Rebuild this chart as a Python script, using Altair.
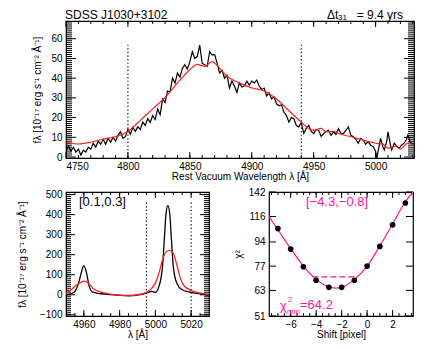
import altair as alt
import pandas as pd

# ---------------- data ----------------
# Top panel: observed (black) spectrum
top_lam = [4750, 4752, 4754, 4756, 4758, 4760, 4762, 4764, 4766, 4768, 4770, 4772, 4774, 4776, 4778,
           4780, 4782, 4784, 4786, 4788, 4790, 4792, 4794, 4796, 4798, 4800, 4802, 4804, 4806, 4808,
           4810, 4812, 4814, 4816, 4818, 4820, 4822, 4824, 4826, 4828, 4830, 4832, 4834, 4836, 4838,
           4840, 4842, 4844, 4846, 4848, 4850, 4852, 4854, 4856, 4858, 4860, 4862, 4864, 4866, 4868,
           4870, 4872, 4874, 4876, 4878, 4880, 4882, 4884, 4886, 4888, 4890, 4892, 4894, 4896, 4898,
           4900, 4902, 4904, 4906, 4908, 4910, 4912, 4914, 4916, 4918, 4920, 4922, 4924, 4926, 4928,
           4930, 4932, 4934, 4936, 4938, 4940, 4942, 4944, 4946, 4948, 4950, 4952, 4954, 4956, 4958,
           4960, 4962, 4964, 4966, 4968, 4970, 4972, 4974, 4976, 4978, 4980, 4982, 4984, 4986, 4988,
           4990, 4992, 4994, 4996, 4998, 5000, 5001, 5003, 5004, 5006, 5007, 5009, 5010, 5012, 5013,
           5015, 5017, 5019, 5021, 5023, 5025, 5026, 5028, 5029, 5031]
top_black = [3.6, 5.5, 3.0, 5.0, 2.5, 4.0, 1.0, 3.5, 2.5, 5.0, 4.0, 7.0, 5.0, 8.0, 6.5,
             9.0, 6.5, 9.5, 7.5, 10.0, 8.0, 11.0, 12.8, 9.5, 10.3, 14.0, 11.5, 15.0, 13.0, 15.3,
             14.0, 17.7, 16.0, 19.5, 17.5, 21.0, 19.0, 24.4, 21.5, 29.4, 27.7, 33.5, 33.0, 40.0, 37.5,
             42.6, 40.5, 45.0, 46.8, 44.5, 48.4, 53.4, 50.0, 51.0, 56.7, 47.5, 46.8, 46.0, 53.4, 51.7,
             52.0, 47.6, 42.6, 44.0, 40.0, 41.5, 35.0, 38.5, 36.0, 32.7, 37.6, 35.5, 36.0, 38.5, 36.5,
             38.5, 37.6, 39.0, 36.0, 34.3, 35.0, 31.0, 32.5, 29.4, 30.5, 27.0, 26.0, 26.5, 22.7, 21.0,
             17.7, 20.0, 19.4, 16.0, 15.3, 17.5, 11.9, 14.5, 16.0, 13.0, 11.9, 14.0, 13.6, 10.5, 11.9,
             13.0, 13.6, 11.0, 12.8, 11.5, 14.4, 12.0, 11.9, 13.5, 15.3, 11.0, 10.3, 9.0, 7.0, 9.5,
             8.6, 6.5, 7.8, 6.0, 5.3, 3.0, -0.5, 6.0, 9.5, 5.0, 3.6, 8.0, 12.8, 6.0, 3.6,
             7.0, 5.5, 4.5, 6.0, 7.0, 9.0, 11.0, 7.5, 7.0, 6.0]
# Top panel: model (red) spectrum
top_red_lam = [4750, 4760, 4770, 4780, 4790, 4800, 4810, 4820, 4830, 4840, 4850, 4856, 4862, 4868,
               4875, 4880, 4890, 4900, 4910, 4920, 4930, 4940, 4946, 4950, 4956, 4960, 4966, 4970,
               4980, 4990, 5000, 5006, 5010, 5016, 5020, 5026, 5031]
top_red = [7.5, 6.6, 7.5, 9.0, 10.3, 13.0, 18.6, 24.4, 30.2, 37.6, 44.3, 47.0, 46.0, 48.4,
           44.3, 41.0, 37.6, 35.0, 33.5, 29.4, 23.5, 17.7, 14.5, 13.6, 14.5, 12.8, 13.0, 11.9,
           10.3, 8.6, 7.0, 6.5, 4.5, 5.5, 4.0, 7.0, 6.0]
top_vlines = [4800, 4940]

# Bottom-left panel: [OIII] region
bl_lam = [4950, 4953, 4955, 4957, 4958.5, 4960, 4961.5, 4963, 4965, 4970, 4975, 4980, 4985, 4990,
          4995, 4998, 5000, 5002, 5004, 5005, 5006, 5007, 5008, 5009, 5010, 5012, 5015, 5020, 5025, 5030]
bl_black = [0, 6, 17, 58, 108, 145, 108, 42, 13, 5, 1, -3, -5, -2,
            8, 17, 12, 42, 142, 275, 408, 445, 408, 275, 142, 58, 25, 12, 5, -2]
bl_red_lam = [4950, 4953, 4955, 4958, 4960, 4962, 4965, 4970, 4975, 4980, 4985, 4990, 4995, 4998,
              5000, 5002, 5004, 5006, 5008, 5010, 5012, 5014, 5016, 5020, 5025, 5030]
bl_red = [8, 25, 42, 60, 68, 62, 33, 12, 3, -2, -3, 0, 12, 33,
          58, 108, 175, 215, 222, 208, 150, 83, 45, 22, 8, 2]
bl_vlines = [4995, 5020]

# Bottom-right panel: chi^2 vs shift
shift_pts = [-7, -6, -5, -4, -3, -2, -1, 0, 1, 2, 3]
chi2_pts = [105, 88.6, 76.6, 68.5, 64.6, 64.6, 68.5, 77, 90.6, 108.3, 129.7]
curve_x = [-7.7, -7, -6, -5, -4, -3, -2.5, -2, -1, 0, 1, 2, 3, 3.6]
curve_y = [116, 104, 89, 77, 69, 64.8, 64.2, 64.6, 69, 77, 91, 109, 131, 142]
dash_x = [-4.3, -0.8]
dash_y = [70.5, 70.5]

# axis tick values
top_xmaj = [4750, 4800, 4850, 4900, 4950, 5000]
top_ymaj = [0, 10, 20, 30, 40, 50, 60]
top_xmin = list(range(4760, 5031, 10))
top_ymin = list(range(1, 69, 1))
bl_xmaj = [4960, 4980, 5000, 5020]
bl_ymaj = [-100, 0, 100, 200, 300, 400, 500]
bl_xmin = list(range(4955, 5030, 5))
bl_ymin = list(range(-100, 511, 10))
br_xmaj = [-6, -4, -2, 0, 2]
br_ymaj = [51, 63, 77, 94, 116, 142]
br_xmin = [v / 2 for v in range(-15, 8)]

# ---------------- helpers ----------------
FONT = "Liberation Sans"
MAG = "#ff1493"
RED = "#ff2020"


def labeled_axes(df, xf, yf, xs, ys, xlab, ylab, xtitle, ytitle, ytp, xfmt=None, yfmt=None):
    xa = dict(orient="bottom", values=xlab, domain=False, grid=False, ticks=False, tickSize=0,
              labelPadding=3, title=xtitle, titlePadding=0)
    ya = dict(orient="left", values=ylab, domain=False, grid=False, ticks=False, tickSize=0,
              labelPadding=4, title=ytitle, titlePadding=ytp)
    if xfmt:
        xa["format"] = xfmt
    if yfmt:
        ya["format"] = yfmt
    return alt.Chart(df).mark_point(opacity=0, clip=True).encode(
        x=alt.X(f"{xf}:Q", scale=xs, axis=alt.Axis(**xa)),
        y=alt.Y(f"{yf}:Q", scale=ys, axis=alt.Axis(**ya)))


def xticks(vals, xs, W, H, length):
    d = pd.DataFrame({"v": vals})
    out = []
    for y0, y1 in [(H, H - length), (0, length)]:
        out.append(alt.Chart(d).mark_rule(color="black", strokeWidth=1).encode(
            x=alt.X("v:Q", scale=xs, axis=None), y=alt.value(y0), y2=alt.value(y1)))
    return out


def yticks(vals, ys, W, H, length):
    d = pd.DataFrame({"v": vals})
    out = []
    for x0, x1 in [(0, length), (W, W - length)]:
        out.append(alt.Chart(d).mark_rule(color="black", strokeWidth=1).encode(
            y=alt.Y("v:Q", scale=ys, axis=None), x=alt.value(x0), x2=alt.value(x1)))
    return out


def label(text, x, y, size=12, color="black", align="left"):
    return alt.Chart(pd.DataFrame({"a": [0]})).mark_text(
        text=text, font=FONT, fontSize=size, color=color, align=align, baseline="middle"
    ).encode(x=alt.value(x), y=alt.value(y))


FLAMBDA = "fλ [10⁻¹⁷ erg s⁻¹ cm⁻² Å⁻¹]"

# ---------------- top panel ----------------
TW, TH = 348, 137
xs_top = alt.Scale(domain=[4750, 5031], nice=False, zero=False)
ys_top = alt.Scale(domain=[-0.5, 69], nice=False, zero=False)
df_top = pd.DataFrame({"lam": top_lam, "f": top_black})
df_top_red = pd.DataFrame({"lam": top_red_lam, "f": top_red})
df_top_v = pd.DataFrame({"lam": top_vlines})

top_layers = [labeled_axes(df_top, "lam", "f", xs_top, ys_top, top_xmaj, top_ymaj,
                           "Rest Vacuum Wavelength λ [Å]", FLAMBDA, 8, xfmt="d")]
top_layers += xticks(top_xmaj, xs_top, TW, TH, 6) + xticks(top_xmin, xs_top, TW, TH, 3)
top_layers += yticks(top_ymaj, ys_top, TW, TH, 10) + yticks(top_ymin, ys_top, TW, TH, 6)
top_layers += [
    alt.Chart(df_top_v).mark_rule(color="black", strokeDash=[1.2, 2.4], strokeWidth=1.2).encode(
        x=alt.X("lam:Q", scale=xs_top, axis=None),
        y=alt.YDatum(57, scale=ys_top, axis=None), y2=alt.value(TH)),
    alt.Chart(df_top).mark_line(color="black", strokeWidth=1.2, clip=True).encode(
        x=alt.X("lam:Q", scale=xs_top, axis=None), y=alt.Y("f:Q", scale=ys_top, axis=None)),
    alt.Chart(df_top_red).mark_line(color=RED, strokeWidth=1.2, clip=True, interpolate="monotone").encode(
        x=alt.X("lam:Q", scale=xs_top, axis=None), y=alt.Y("f:Q", scale=ys_top, axis=None)),
    label("SDSS J1030+3102", -1, -6, size=12),
    label("Δt", 261, -6, size=12),
    label("31", 272, -3, size=8),
    label("= 9.4  yrs", 337, -6, size=12, align="right"),
]
top = alt.layer(*top_layers).resolve_axis(x="independent", y="independent").properties(
    width=TW, height=TH)

# ---------------- bottom-left ----------------
BW, BH = 143, 124
xs_bl = alt.Scale(domain=[4950, 5030], nice=False, zero=False)
ys_bl = alt.Scale(domain=[-106, 513], nice=False, zero=False)
df_bl = pd.DataFrame({"lam": bl_lam, "f": bl_black})
df_bl_red = pd.DataFrame({"lam": bl_red_lam, "f": bl_red})
df_bl_v = pd.DataFrame({"lam": bl_vlines})
bl_layers = [labeled_axes(df_bl, "lam", "f", xs_bl, ys_bl, bl_xmaj, bl_ymaj,
                          "λ [Å]", FLAMBDA, 12, xfmt="d")]
bl_layers += xticks(bl_xmaj, xs_bl, BW, BH, 6) + xticks(bl_xmin, xs_bl, BW, BH, 3)
bl_layers += yticks(bl_ymaj, ys_bl, BW, BH, 9) + yticks(bl_ymin, ys_bl, BW, BH, 5)
bl_layers += [
    alt.Chart(df_bl_v).mark_rule(color="black", strokeDash=[1.2, 2.4], strokeWidth=1.2).encode(
        x=alt.X("lam:Q", scale=xs_bl, axis=None),
        y=alt.YDatum(460, scale=ys_bl, axis=None), y2=alt.value(BH)),
    alt.Chart(df_bl).mark_line(color="black", strokeWidth=1.3, clip=True, interpolate="monotone").encode(
        x=alt.X("lam:Q", scale=xs_bl, axis=None), y=alt.Y("f:Q", scale=ys_bl, axis=None)),
    alt.Chart(df_bl_red).mark_line(color=RED, strokeWidth=1.3, clip=True, interpolate="monotone").encode(
        x=alt.X("lam:Q", scale=xs_bl, axis=None), y=alt.Y("f:Q", scale=ys_bl, axis=None)),
    label("[0.1,0.3]", 13, 10, size=13),
]
bl = alt.layer(*bl_layers).resolve_axis(x="independent", y="independent").properties(
    width=BW, height=BH)

# ---------------- bottom-right ----------------
RW, RH = 144, 124
xs_br = alt.Scale(domain=[-7.7, 3.6], nice=False, zero=False)
ys_br = alt.Scale(type="log", domain=[51, 142], nice=False, zero=False)
df_pts = pd.DataFrame({"s": shift_pts, "c": chi2_pts})
df_curve = pd.DataFrame({"s": curve_x, "c": curve_y})
df_dash = pd.DataFrame({"s": dash_x, "c": dash_y})
br_layers = [labeled_axes(df_pts, "s", "c", xs_br, ys_br, br_xmaj, br_ymaj,
                          "Shift [pixel]", "χ²", 5, yfmt="d")]
br_layers += xticks(br_xmaj, xs_br, RW, RH, 6) + xticks(br_xmin, xs_br, RW, RH, 3)
br_layers += yticks(br_ymaj, ys_br, RW, RH, 7)
br_layers += [
    alt.Chart(df_curve).mark_line(color=MAG, strokeWidth=1.2, clip=True, interpolate="monotone").encode(
        x=alt.X("s:Q", scale=xs_br, axis=None), y=alt.Y("c:Q", scale=ys_br, axis=None)),
    alt.Chart(df_dash).mark_line(color=MAG, strokeWidth=1.2, strokeDash=[6, 3]).encode(
        x=alt.X("s:Q", scale=xs_br, axis=None), y=alt.Y("c:Q", scale=ys_br, axis=None)),
    alt.Chart(df_pts).mark_circle(color="black", size=32, opacity=1).encode(
        x=alt.X("s:Q", scale=xs_br, axis=None), y=alt.Y("c:Q", scale=ys_br, axis=None)),
    label("[−4.3,−0.8]", 68, 10, size=13, color=MAG, align="center"),
    label("χ", 11, 114, size=13, color=MAG),
    label("2", 19, 108, size=8, color=MAG),
    label("min", 18, 120, size=8, color=MAG),
    label("=64.2", 31, 113, size=13, color=MAG),
]
br = alt.layer(*br_layers).resolve_axis(x="independent", y="independent").properties(
    width=RW, height=RH)

bottom = alt.hconcat(bl, br, spacing=60, bounds="flush")
chart = alt.vconcat(top, bottom, spacing=34, bounds="flush").properties(
    padding={"left": 8, "top": 0, "right": 5, "bottom": 5}
).configure_view(stroke="black", strokeWidth=1.2).configure_axis(
    labelFont=FONT, labelFontSize=10, labelColor="black",
    titleFont=FONT, titleFontSize=10, titleFontWeight="normal", titleColor="black",
    grid=False
)

chart.save("out.html", embed_options={"renderer": "svg", "actions": False})
